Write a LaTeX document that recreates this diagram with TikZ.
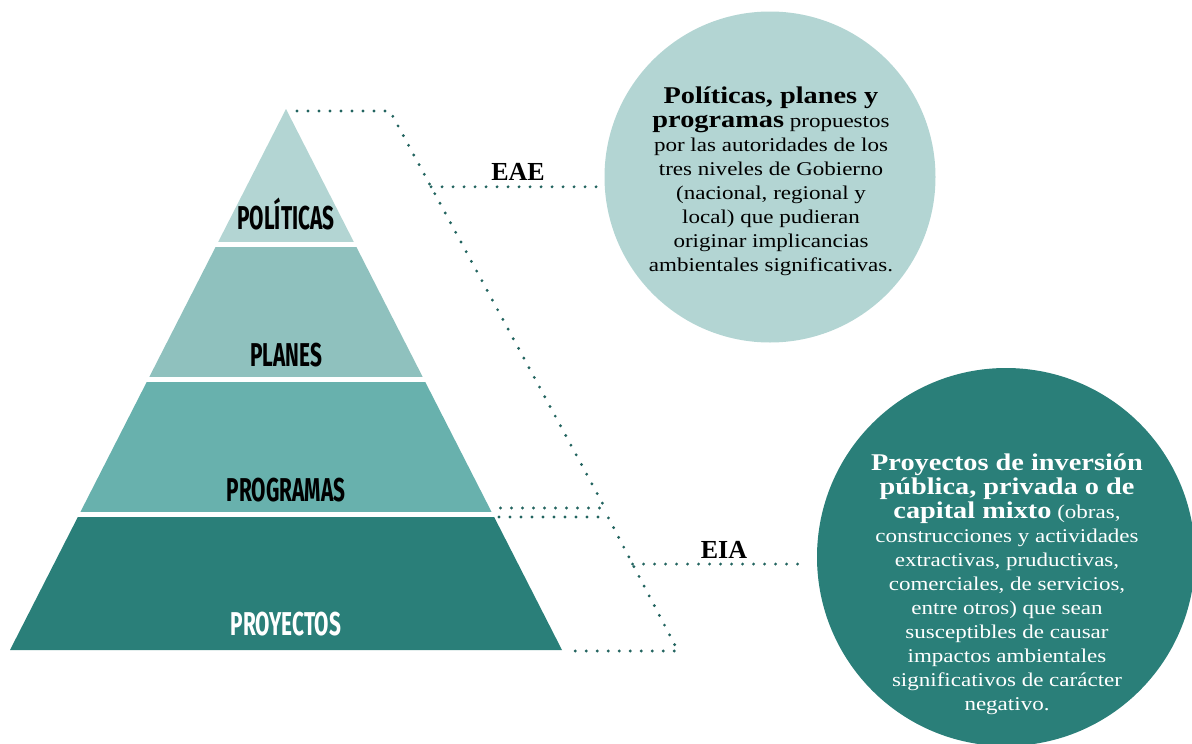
\documentclass[tikz,border=0pt]{standalone}
\usepackage{fontspec}
\setmainfont{Liberation Serif}
\newfontfamily\breitfont[FakeStretch=1.18]{Liberation Serif}
\newfontfamily\stufefont[FakeStretch=0.63]{Fira Sans}
\usepackage{tikz}
\usetikzlibrary{calc,positioning}
\definecolor{tealA}{HTML}{B3D5D3}
\definecolor{tealB}{HTML}{8FC1BE}
\definecolor{tealC}{HTML}{68B1AD}
\definecolor{tealD}{HTML}{2A7F79}
\definecolor{punkt}{HTML}{22645F}
\tikzstyle{stufe}=[font=\stufefont\bfseries\fontsize{33}{33}\selectfont,inner sep=0pt,anchor=base]
\tikzstyle{kreis}=[circle,inner sep=0pt]
\tikzstyle{kreistext}=[align=center,inner sep=0pt,font=\breitfont\fontsize{19.5}{24}\selectfont]
\tikzstyle{kuerzel}=[font=\bfseries\fontsize{26}{26}\selectfont,inner sep=0pt]
\tikzstyle{punkte}=[draw=punkt,line width=3.2pt,line cap=round,dash pattern=on 0pt off 11pt]
\newcommand{\fett}[1]{{\fontsize{24}{25}\selectfont\bfseries #1}}

\begin{document}
\begin{tikzpicture}[x=1pt,y=-1pt]
    \path[use as bounding box,clip] (0,0) rectangle (1192,744);

    % Pyramide
    \coordinate (spitze) at (286,109);
    \coordinate (basisL) at (10,650);
    \coordinate (basisR) at (562,650);
    \begin{scope}
      \clip (spitze) -- (basisL) -- (basisR) -- cycle;
      \fill[tealA] (0,100) rectangle (600,242);
      \fill[tealB] (0,247) rectangle (600,377);
      \fill[tealC] (0,382) rectangle (600,512);
      \fill[tealD] (0,517) rectangle (600,651);
    \end{scope}
    \node[stufe] (pol) at (286,229) {POLÍTICAS};
    \node[stufe] (pla) at (286,366) {PLANES};
    \node[stufe] (pro) at (286,501) {PROGRAMAS};
    \node[stufe,text=white] (proy) at (286,635) {PROYECTOS};

    % Kreise
    \node[kreis,fill=tealA,minimum size=331pt] (kreisEAE) at (770,177) {};
    \node[kreis,fill=tealD,minimum size=378pt] (kreisEIA) at (1006,557) {};
    \node[kreistext] (txtEAE) at (771,181) {\fett{Políticas, planes y}\\
      \fett{programas} propuestos\\
      por las autoridades de los\\
      tres niveles de Gobierno\\
      (nacional, regional y\\
      local) que pudieran\\
      originar implicancias\\
      ambientales significativas.};
    \node[kreistext,text=white] (txtEIA) at (1007,584) {\fett{Proyectos de inversión}\\
      \fett{pública, privada o de}\\
      \fett{capital mixto} (obras,\\
      construcciones y actividades\\
      extractivas, pruductivas,\\
      comerciales, de servicios,\\
      entre otros) que sean\\
      susceptibles de causar\\
      impactos ambientales\\
      significativos de carácter\\
      negativo.};

    % Klammern
    \coordinate (eae1) at (297,111);
    \coordinate (eae2) at (390,111);
    \coordinate (eae3) at (605,508);
    \coordinate (eae4) at (495,508);
    \coordinate (eaeAst) at ($(eae2)!.191!(eae3)$);
    \draw[punkte] (eae1) -- (eae2) -- (eae3) -- (eae4);
    \draw[punkte,shorten >=8pt] (eaeAst) -- (eaeAst -| kreisEAE.west);
    \node[kuerzel] (eae) at (518,172) {EAE};

    \coordinate (eia1) at (499,517);
    \coordinate (eia2) at (608,517);
    \coordinate (eia3) at (678,651);
    \coordinate (eia4) at (568,651);
    \coordinate (eiaAst) at ($(eia2)!.351!(eia3)$);
    \draw[punkte] (eia1) -- (eia2) -- (eia3) -- (eia4);
    \draw[punkte,shorten >=9pt] (eiaAst) -- (eiaAst -| kreisEIA.west);
    \node[kuerzel] (eia) at (724,550) {EIA};

\end{tikzpicture}
\end{document}
